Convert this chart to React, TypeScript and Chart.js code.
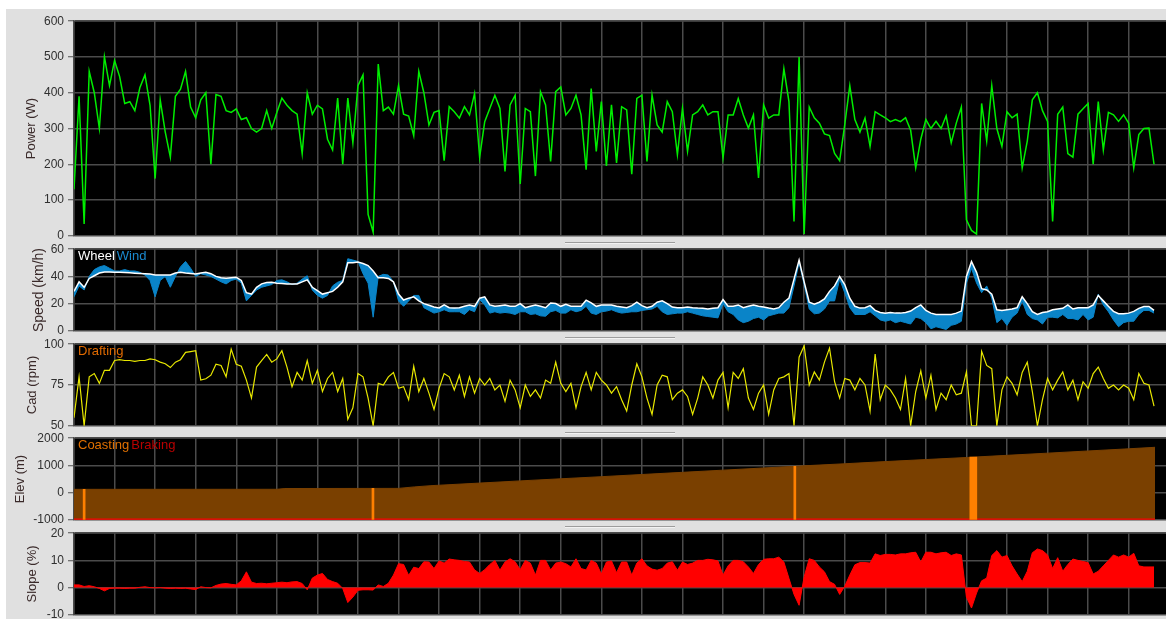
import { useEffect, useRef } from "react";
import { Chart, registerables } from "chart.js";

Chart.register(...registerables);
Chart.defaults.font.family = "'Liberation Sans', Arial, sans-serif";

// ---------------- data ----------------
// one sample every 1/8 of a grid division along the ride
const SAMPLE_STEP = 0.125;
const X_MAX = 26.92;

const POWER_W = [
  130, 390, 33, 460, 400, 300, 500, 420, 490, 445,
  370, 375, 350, 415, 450, 365, 160, 380, 290, 220,
  390, 410, 460, 360, 330, 380, 400, 200, 395, 390,
  350, 345, 355, 325, 330, 300, 290, 300, 350, 300,
  345, 385, 365, 350, 340, 230, 400, 340, 365, 355,
  270, 240, 385, 200, 385, 260, 420, 450, 60, 10,
  480, 350, 360, 340, 420, 340, 335, 280, 460, 400,
  310, 345, 350, 210, 361, 347, 329, 361, 338, 398,
  220, 319, 356, 393, 356, 180, 366, 393, 145, 356,
  347, 167, 403, 366, 208, 403, 416, 338, 356, 393,
  338, 185, 412, 236, 375, 195, 366, 204, 361, 352,
  172, 384, 393, 208, 393, 310, 290, 375, 347, 227,
  356, 236, 338, 347, 366, 338, 347, 347, 218, 338,
  338, 384, 338, 301, 338, 162, 366, 329, 338, 338,
  467, 375, 40, 500, 5, 360, 330, 315, 285, 280,
  230, 210, 310, 420, 325, 290, 329, 250, 347, 338,
  330, 319, 325, 319, 330, 295, 190, 270, 325, 300,
  320, 300, 335, 260, 315, 360, 45, 15, 5, 370,
  265, 420, 300, 250, 347, 330, 340, 190, 265, 380,
  400, 350, 320, 40, 340, 360, 230, 220, 340, 355,
  370, 200, 375, 240, 345, 338, 320, 338, 315, 190,
  283, 300, 301, 200,
];

const WHEEL_KMH = [
  29, 36, 32, 38.5, 40.5, 42.5, 43.3, 43.2, 43, 43,
  42.8, 42.6, 42.4, 42.2, 42, 41.7, 41, 41, 41, 41,
  42.5, 43, 42.5, 42.2, 41.7, 42.5, 43, 42, 40, 39,
  38.6, 39, 39.3, 37, 28, 27, 32, 34.5, 35.5, 35.7,
  35, 34.8, 34.5, 34.5, 34.5, 36, 37.5, 32, 29.5, 27,
  28, 29, 32, 36, 50, 50, 50.5, 49.5, 48, 44,
  39, 39, 38.5, 36, 27, 22.6, 24, 25, 22, 20,
  18.8, 17.5, 16.8, 19, 17, 16.7, 17, 18, 19, 18,
  24, 25, 19, 18, 18.5, 19, 18, 18, 20, 17,
  18, 19, 18, 17, 20.5, 20, 18, 19.5, 18, 18,
  18, 22.5, 20.5, 18, 19, 19, 19, 18, 17.5, 17,
  18.5, 21, 18.5, 17, 18, 21, 22, 20, 17.5, 17,
  17, 17.5, 17, 16.7, 16.5, 16, 16.5, 17, 23, 18,
  18, 19, 17, 18, 19, 18, 17.5, 16.7, 16, 17,
  21, 24, 38, 52, 36, 21, 19.5, 21, 23.5, 29,
  33, 40, 34, 24, 18, 16.7, 17, 18.5, 15, 13.5,
  13, 13.5, 13, 13, 13.5, 14.5, 17, 19, 15, 13,
  12, 12, 12, 12, 13, 14.5, 40, 51, 43, 31,
  30, 27, 15.5, 15, 15.5, 16, 17, 25, 20, 14,
  12, 13.5, 14, 15.5, 16, 16.5, 19, 16, 17, 17,
  17, 19, 26, 22, 18, 14.3, 12.5, 12.5, 13, 14.3,
  16.5, 17.9, 17.9, 15,
];

const WIND_KMH = [
  25, 33, 30, 40, 45, 47, 48, 46, 44, 44,
  45, 44, 44, 43, 41, 37, 25, 37, 40, 32,
  40, 47, 51, 46, 40, 42, 41, 40, 38, 36,
  34.5, 37, 38, 35, 22, 26, 30, 32, 33, 34,
  37, 37.5, 36, 34, 35, 38, 40.5, 30, 26, 24,
  26, 33, 35.7, 37, 53, 52, 51, 42, 35, 10,
  40, 41.5, 41, 36, 22, 18, 22, 26, 26, 17,
  15, 13, 14, 15.5, 14, 14, 14, 12, 15.5, 14,
  23, 19, 13, 14, 13, 13.5, 13, 12, 14, 14,
  12, 12.5, 11, 10.7, 14, 15, 13, 13, 15.5, 14,
  15, 18, 13, 12, 14, 14.5, 15.5, 14, 13, 13.5,
  14, 14, 15, 15.5, 16, 18, 14, 12, 12.5, 13,
  13, 14, 13, 12, 11, 10.5, 10, 9.5, 20, 14,
  12, 8, 6, 7, 9, 10, 8, 11, 12, 13,
  13, 17, 33, 50, 34, 16, 12.5, 13, 16, 22,
  22, 38, 28, 17, 12, 12, 12, 14, 11, 8,
  7, 8, 6, 7, 6, 5, 10, 9, 6, 1.5,
  3, 2, 1, 4, 5, 7, 35, 46, 35, 28,
  33, 24, 6, 9, 4, 10, 13, 22, 12, 9,
  8, 5, 10, 10, 9.5, 12, 9, 9, 8, 12,
  8, 10, 27, 19, 14, 8, 3, 6, 7, 7,
  12, 15, 15, 13,
];

const CADENCE_RPM = [
  55, 80, 50, 80, 82, 76, 84, 84, 90, 90.5,
  90, 90, 89.5, 90, 90, 91, 90.5, 89, 88, 85.7,
  89, 90.5, 95, 95.5, 96, 78, 78.8, 81, 87.7, 87,
  80, 97, 87.7, 86.5, 78, 67, 86, 90, 93.7, 89,
  91, 96, 86, 74, 82.7, 78, 90, 76, 84, 71,
  79, 82.7, 71, 79, 54, 61, 82, 80, 67, 50,
  76, 75, 80, 82.7, 73, 74, 66, 86.5, 71, 79,
  70, 60, 73, 82, 80, 72, 81, 68, 80, 70,
  79, 75, 79, 72, 75, 65, 78, 72, 61, 75,
  68, 72, 67, 78, 76, 89, 76, 71, 76, 61,
  74, 82.7, 72, 82.7, 78, 75, 70, 74, 66, 59,
  75, 88, 80, 67, 57, 75, 81, 80, 66, 70,
  72, 68, 57, 67, 80, 75, 67, 78, 82.7, 61,
  82.7, 79, 85, 67, 60, 70, 75, 57, 72, 79,
  80, 82, 50, 92, 99, 75, 83, 78, 89, 97.6,
  77, 67, 79, 78, 72, 79, 75, 59, 94, 66,
  75, 72, 67, 60, 79, 50, 71, 83.7, 67, 81,
  60, 70, 66, 75, 69, 70, 83, 50, 50, 95.6,
  87, 85, 50, 72, 80, 76, 69, 82.7, 89, 71,
  50, 66, 79, 72, 78, 83, 72, 78, 66, 77,
  73, 82, 86, 79, 73, 75, 72, 75, 73, 66,
  82, 76, 75, 62,
];

const SLOPE_PCT = [
  1, 1, 0.4, 0.7, 0.3, -0.3, -1.2, -0.3, -0.2, -0.2,
  -0.3, -0.2, -0.2, 0.1, 0.3, 0, -0.1, 0, -0.2, -0.3,
  -0.2, -0.3, -0.2, -0.5, -0.7, 0.3, 0, -0.1, 0.8, 1.3,
  1.5, 1.2, 1, 2.5, 5.8, 2, 1.5, 1.6, 1.4, 1.6,
  1.8, 2, 1.8, 2.1, 2.2, 1.5, -0.8, 3.5, 4.6, 5.2,
  3, 2.2, 1.6, -0.3, -5.5, -3.5, -1, -0.8, -0.8, -0.9,
  1, 0.4, 1.6, 4.6, 8.8, 8.5, 4.5, 7.5, 7, 9.5,
  9.4, 7, 9.8, 9, 10.5, 10.2, 10, 9.6, 9.4, 6.5,
  5.2, 6.6, 8.5, 10, 6.4, 9.4, 10.6, 9.5, 6.6, 10,
  9, 4.6, 10, 10, 6.5, 9, 9.4, 8.8, 7.6, 10.6,
  7, 6.5, 10, 9, 5, 9.4, 9.8, 5.5, 9.4, 9.4,
  4.6, 9, 10.6, 8, 6.8, 6.4, 7, 9, 9.5, 6.4,
  9.4, 8.5, 9, 10, 10, 10.4, 10.2, 9.8, 4.6, 8,
  10, 10, 9.5, 7.6, 5.2, 8.5, 10.4, 10.6, 10.6, 11.2,
  9.4, 3.4, -2.5, -6.5, 4, 10.6, 10, 7.6, 5.8, 2.2,
  1.2, -2.5, 0.5, 4.6, 8.4, 9.2, 9.2, 9, 12.4, 11.8,
  12.2, 12.2, 12, 12.4, 12.4, 12.8, 13, 9.4, 13, 13,
  12.4, 12.8, 13, 11.8, 12.4, 12, -3.5, -7.5, -2, 2.5,
  3.5, 11.8, 13.6, 11.2, 11.8, 8, 5, 2.2, 6, 12.8,
  14.2, 13.6, 12, 7, 11, 6, 8.5, 10.5, 10, 9.6,
  9.2, 5, 6, 8, 10, 12, 11.2, 12, 11.2, 12.6,
  8, 7.6, 7.6, 7.6,
];

const ELEV_DIST = [0, 5, 5.2, 8, 8.4, 8.8, 10, 11, 12, 13, 14, 15, 16, 17, 18, 19, 20, 21, 22, 23, 24, 25, 26, 26.65];
const ELEV_M = [120, 122, 150, 155, 210, 255, 350, 430, 508, 585, 665, 745, 825, 905, 985, 1060, 1140, 1215, 1290, 1370, 1450, 1530, 1610, 1665];

const COAST_DIST = [0.25, 7.37, 17.77];
const COAST_TOP_M = [120, 155, 967];
const COAST_LONG_DIST = [22.17];
const COAST_LONG_TOP_M = [1304];
const BRAKE_DIST = [0, 26.65];
const BRAKE_M = [-1000, -1000];

const POWER_AXIS = [0, 600, 100];
const SPEED_AXIS = [0, 60, 20];
const CAD_AXIS = [50, 100, 25];
const ELEV_AXIS = [-1000, 2000, 1000];
const SLOPE_AXIS = [-10, 20, 10];

// ---------------- helpers ----------------
const series = (vals: number[]) => vals.map((y, i) => ({ x: i * SAMPLE_STEP, y }));
const pairs = (xs: number[], ys: number[]) => xs.map((x, i) => ({ x, y: ys[i] }));
const bars = (xs: number[], tops: number[], base: number) => xs.map((x, i) => ({ x, y: [base, tops[i]] }));

const PLOT_LEFT = 74;
const WIDTH = 1166;
const PAD = 10;
const GRID = "#4b4b4b";

type Label = { text: string; color: string };
type PanelProps = {
  top: number;
  height: number;
  axis: number[];
  title: string;
  titleSize: number;
  titleCenter: number;
  datasets: any[];
  labels?: Label[];
};

const plotBg = {
  id: "plotBg",
  beforeDraw(chart: any) {
    const { ctx, chartArea } = chart;
    ctx.save();
    ctx.fillStyle = "#000";
    ctx.fillRect(chartArea.left, chartArea.top, chartArea.width, chartArea.height);
    ctx.restore();
  },
};

function PanelChart(p: PanelProps) {
  const ref = useRef<HTMLCanvasElement>(null);
  useEffect(() => {
    const labels = p.labels || [];
    const labelPlugin = {
      id: "cornerLabels",
      afterDraw(chart: any) {
        if (!labels.length) return;
        const { ctx, chartArea } = chart;
        ctx.save();
        ctx.font = "13px 'Liberation Sans', Arial, sans-serif";
        ctx.textBaseline = "top";
        let x = chartArea.left + 4;
        for (const l of labels) {
          ctx.fillStyle = l.color;
          ctx.fillText(l.text, x, chartArea.top + 1);
          x += ctx.measureText(l.text).width + 2;
        }
        ctx.restore();
      },
    };
    const lh = p.titleSize * 1.2;
    const chart = new Chart(ref.current as HTMLCanvasElement, {
      type: "line",
      data: { datasets: p.datasets },
      options: {
        animation: false,
        responsive: false,
        maintainAspectRatio: false,
        events: [],
        layout: { padding: { top: PAD, bottom: PAD, left: 0, right: 0 } },
        plugins: { legend: { display: false }, tooltip: { enabled: false } },
        elements: { point: { radius: 0 }, line: { tension: 0 } },
        scales: {
          x: {
            type: "linear",
            min: 0,
            max: X_MAX,
            offset: false,
            ticks: { display: false, stepSize: 1, includeBounds: false },
            grid: { color: GRID, lineWidth: 1.5, drawTicks: false, offset: false },
            border: { display: false },
            afterFit: (s: any) => {
              s.height = 0;
            },
          },
          y: {
            type: "linear",
            position: "left",
            min: p.axis[0],
            max: p.axis[1],
            ticks: {
              stepSize: p.axis[2],
              color: "#303030",
              font: { size: 12 },
              padding: 4,
              callback: (v: any) => String(v),
            },
            grid: { color: GRID, lineWidth: 1.5, tickColor: "#505050", tickLength: 6, tickWidth: 1 },
            border: { display: true, color: GRID, width: 1.5 },
            title: {
              display: true,
              text: p.title,
              color: "#3a2a2a",
              font: { size: p.titleSize },
              padding: { top: p.titleCenter - lh / 2, bottom: 0 },
            },
            afterFit: (s: any) => {
              s.width = PLOT_LEFT;
            },
          },
        },
      } as any,
      plugins: [plotBg, labelPlugin],
    });
    return () => chart.destroy();
  }, []);
  return (
    <canvas
      ref={ref}
      width={WIDTH}
      height={p.height + 2 * PAD}
      style={{ position: "absolute", left: 0, top: p.top - PAD, display: "block" }}
    />
  );
}

const lineDs = (data: any[], color: string, width: number, extra: any = {}) => ({
  type: "line",
  data,
  borderColor: color,
  borderWidth: width,
  pointRadius: 0,
  fill: false,
  ...extra,
});

export default function App() {
  const splitters = [242, 337, 432, 526];
  return (
    <div
      style={{
        position: "fixed",
        left: 0,
        top: 0,
        width: WIDTH,
        height: 619,
        background: "#ffffff",
        overflow: "hidden",
      }}
    >
      <div style={{ position: "absolute", left: 6, top: 9, right: 0, bottom: 0, background: "#e0e0e0" }} />
      {splitters.map((y) => (
        <div
          key={y}
          style={{
            position: "absolute",
            left: 565,
            top: y,
            width: 110,
            height: 1,
            background: "#9c9c9c",
            borderBottom: "1px solid #f2f2f2",
          }}
        />
      ))}
      <PanelChart
        top={20}
        height={217}
        axis={POWER_AXIS}
        title="Power (W)"
        titleSize={13}
        titleCenter={31}
        datasets={[lineDs(series(POWER_W), "#00ee00", 1.5)]}
      />
      <PanelChart
        top={248}
        height={84}
        axis={SPEED_AXIS}
        title="Speed (km/h)"
        titleSize={14}
        titleCenter={39}
        labels={[
          { text: "Wheel", color: "#ffffff" },
          { text: "Wind", color: "#1a8ad0" },
        ]}
        datasets={[
          lineDs(series(WHEEL_KMH), "#ffffff", 1.5),
          lineDs(series(WIND_KMH), "#0a84c8", 1, { fill: "-1", backgroundColor: "#0a84c8" }),
        ]}
      />
      <PanelChart
        top={343}
        height={84}
        axis={CAD_AXIS}
        title="Cad (rpm)"
        titleSize={13}
        titleCenter={32}
        labels={[{ text: "Drafting", color: "#e06a00" }]}
        datasets={[lineDs(series(CADENCE_RPM), "#e8e800", 1.2)]}
      />
      <PanelChart
        top={437}
        height={84}
        axis={ELEV_AXIS}
        title="Elev (m)"
        titleSize={13}
        titleCenter={20}
        labels={[
          { text: "Coasting", color: "#e07000" },
          { text: "Braking", color: "#b80000" },
        ]}
        datasets={[
          {
            type: "bar",
            data: bars(COAST_DIST, COAST_TOP_M, ELEV_AXIS[0]),
            backgroundColor: "#ff8000",
            barThickness: 2,
            grouped: false,
          },
          {
            type: "bar",
            data: bars(COAST_LONG_DIST, COAST_LONG_TOP_M, ELEV_AXIS[0]),
            backgroundColor: "#ff8000",
            barThickness: 7,
            grouped: false,
          },
          lineDs(pairs(BRAKE_DIST, BRAKE_M), "#ff0000", 2.5),
          lineDs(pairs(ELEV_DIST, ELEV_M), "#7a4000", 1, { fill: "start", backgroundColor: "#7a4000" }),
        ]}
      />
      <PanelChart
        top={532}
        height={84}
        axis={SLOPE_AXIS}
        title="Slope (%)"
        titleSize={13}
        titleCenter={32.5}
        datasets={[lineDs(series(SLOPE_PCT), "#ff0000", 1, { fill: "origin", backgroundColor: "#ff0000" })]}
      />
    </div>
  );
}
